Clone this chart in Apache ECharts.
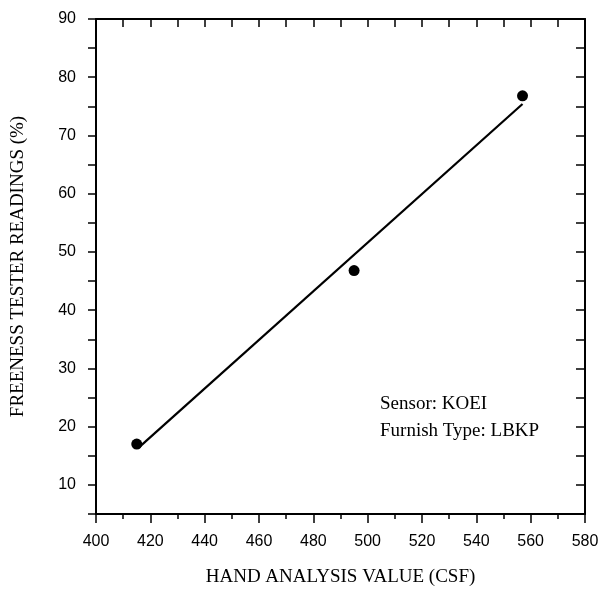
<!DOCTYPE html>
<html>
<head>
<meta charset="utf-8">
<script src="https://cdn.jsdelivr.net/npm/echarts@6/dist/echarts.min.js"></script>
<style>
html, body { margin: 0; padding: 0; background: #fff; }
#chart { width: 615px; height: 592px; }
</style>
</head>
<body>
<div id="chart"></div>
<script>
// measured points (hand analysis CSF, freeness tester %)
var handValues = [415, 495, 557];
var testerReadings = [17, 46.8, 76.8];
// fitted line end points
var fitX = [415.5, 557];
var fitY = [16.3, 75.4];
var notes = ['Sensor: KOEI', 'Furnish Type: LBKP'];

var points = handValues.map(function (v, i) { return [v, testerReadings[i]]; });
var fitLine = fitX.map(function (v, i) { return [v, fitY[i]]; });

var serif = '"Liberation Serif", "DejaVu Serif", serif';
var sans = '"Liberation Sans", Arial, sans-serif';
var axisLine = { show: true, onZero: false, lineStyle: { color: '#000', width: 2 } };

var chart = echarts.init(document.getElementById('chart'));
var option = {
	animation: false,
	backgroundColor: '#fff',
	grid: { left: 96, right: 30, top: 19, bottom: 78, containLabel: false },
	xAxis: [
		{
			type: 'value', position: 'bottom', min: 400, max: 580, interval: 20,
			axisLine: axisLine,
			axisTick: { show: true, inside: false, length: 9, lineStyle: { color: '#000', width: 1.5 } },
			minorTick: { show: true, splitNumber: 2, length: 5, lineStyle: { color: '#000', width: 1.5 } },
			axisLabel: { color: '#000', fontFamily: sans, fontSize: 16, margin: 20 },
			splitLine: { show: false },
			name: 'HAND ANALYSIS VALUE (CSF)', nameLocation: 'middle', nameGap: 54,
			nameTextStyle: { color: '#000', fontFamily: serif, fontSize: 19 }
		},
		{
			type: 'value', position: 'top', min: 400, max: 580, interval: 10,
			axisLine: axisLine,
			axisTick: { show: true, inside: true, length: 8, lineStyle: { color: '#000', width: 1.5 } },
			axisLabel: { show: false },
			splitLine: { show: false }
		}
	],
	yAxis: [
		{
			type: 'value', position: 'left', min: 5, max: 90, interval: 5,
			axisLine: axisLine,
			axisTick: { show: true, inside: false, length: 8, lineStyle: { color: '#000', width: 1.5 } },
			axisLabel: {
				color: '#000', fontFamily: sans, fontSize: 16, margin: 20,
				formatter: function (v) { return v % 10 === 0 ? String(v) : ''; }
			},
			splitLine: { show: false },
			name: 'FREENESS TESTER READINGS (%)', nameLocation: 'middle', nameGap: 68,
			nameTextStyle: { color: '#000', fontFamily: serif, fontSize: 19 }
		},
		{
			type: 'value', position: 'right', min: 5, max: 90, interval: 5,
			axisLine: axisLine,
			axisTick: { show: true, inside: true, length: 9, lineStyle: { color: '#000', width: 1.5 } },
			axisLabel: { show: false },
			splitLine: { show: false }
		}
	],
	graphic: [
		{ type: 'text', left: 380, top: 395, style: { text: notes[0], fill: '#000', font: '19px ' + serif } },
		{ type: 'text', left: 380, top: 422, style: { text: notes[1], fill: '#000', font: '19px ' + serif } }
	],
	series: [
		{
			type: 'line', data: fitLine, showSymbol: false, symbol: 'none',
			lineStyle: { color: '#000', width: 2.2 }, silent: true
		},
		{
			type: 'scatter', data: points, symbol: 'circle', symbolSize: 11,
			itemStyle: { color: '#000', opacity: 1 }
		}
	]
};
chart.setOption(option);
</script>
</body>
</html>
